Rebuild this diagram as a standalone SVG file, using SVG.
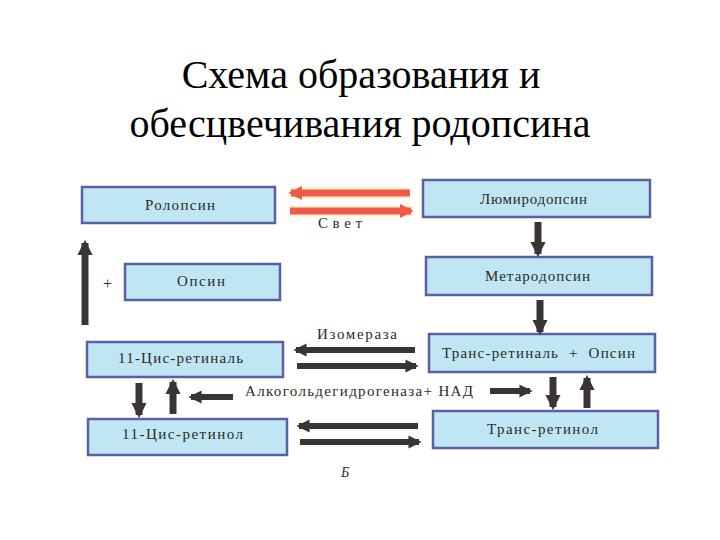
<svg xmlns="http://www.w3.org/2000/svg" width="720" height="540" viewBox="0 0 720 540">
<defs>
<style>
.title{font-family:"Liberation Serif","Times New Roman",serif;font-size:40px;fill:#000;text-anchor:middle}
.box rect{fill:#bfe6f2;stroke:#5b5fa6;stroke-width:2.5}
.box text{font-family:"Liberation Serif","Times New Roman",serif;font-size:15px;fill:#2a2a2a}
.lbl{font-family:"Liberation Serif","Times New Roman",serif;font-size:15px;fill:#2a2a2a}
.dk{stroke:#3a3434;stroke-width:6;fill:none;marker-end:url(#hd)}
.dkv{stroke:#3a3434;stroke-width:7;fill:none;marker-end:url(#hd)}
.rd{stroke:#f05a4a;stroke-width:7;fill:none;marker-end:url(#hr)}
.glow{stroke:#fbe9a0;stroke-width:11;fill:none;opacity:0.6}
</style>
<marker id="hd" viewBox="0 0 10 10" refX="8" refY="5" markerWidth="2.2" markerHeight="2.4" orient="auto" markerUnits="strokeWidth">
<path d="M0,0 L10,5 L0,10 z" fill="#3a3434"/>
</marker>
<marker id="hr" viewBox="0 0 10 10" refX="8" refY="5" markerWidth="2" markerHeight="2.3" orient="auto" markerUnits="strokeWidth">
<path d="M0,0 L10,5 L0,10 z" fill="#f05a4a"/>
</marker>
</defs>
<text class="title" x="361" y="88">Схема образования и</text>
<text class="title" x="360" y="137">обесцвечивания родопсина</text>

<g id="rodopsin" class="box"><rect x="82" y="187" width="193" height="36"/><text x="145" y="210" textLength="70" lengthAdjust="spacing">Ролопсин</text></g>
<g id="opsin" class="box"><rect x="125" y="264" width="155" height="36"/><text x="177" y="286" textLength="48" lengthAdjust="spacing">Опсин</text></g>
<g id="lumirodopsin" class="box"><rect x="423" y="180" width="227" height="37"/><text x="480" y="204" textLength="107" lengthAdjust="spacing">Люмиродопсин</text></g>
<g id="metarodopsin" class="box"><rect x="426" y="257" width="226" height="38"/><text x="485" y="281" textLength="105" lengthAdjust="spacing">Метародопсин</text></g>
<g id="trans-retinal" class="box"><rect x="429" y="334" width="226" height="38"/><text x="442" y="358" textLength="193" lengthAdjust="spacing" xml:space="preserve">Транс-ретиналь  +  Опсин</text></g>
<g id="trans-retinol" class="box"><rect x="433" y="411" width="225" height="37"/><text x="487" y="434" textLength="111" lengthAdjust="spacing">Транс-ретинол</text></g>
<g id="cis-retinal" class="box"><rect x="87" y="342" width="196" height="35"/><text x="118" y="363" textLength="125" lengthAdjust="spacing">11-Цис-ретиналь</text></g>
<g id="cis-retinol" class="box"><rect x="88" y="419" width="199" height="36"/><text x="122" y="439" textLength="121" lengthAdjust="spacing">11-Цис-ретинол</text></g>

<g id="labels">
<text class="lbl" x="318" y="228" textLength="44" lengthAdjust="spacing">Свет</text>
<text class="lbl" x="317" y="339" textLength="80" lengthAdjust="spacing">Изомераза</text>
<text class="lbl" x="245" y="396" textLength="228" lengthAdjust="spacing">Алкогольдегидрогеназа+ НАД</text>
<text x="103" y="289" font-family="Liberation Serif,serif" font-size="16" fill="#333">+</text>
<text x="341" y="477" font-family="Liberation Serif,serif" font-size="14" font-style="italic" fill="#333">Б</text>
</g>

<g id="connectors">
<line class="glow" x1="410" y1="193" x2="290" y2="193"/>
<line class="glow" x1="290" y1="211" x2="412" y2="211"/>
<line class="rd" x1="410" y1="193" x2="291" y2="193"/>
<line class="rd" x1="290" y1="211" x2="411" y2="211"/>
<line class="dkv" x1="538" y1="222" x2="538" y2="254"/>
<line class="dkv" x1="540" y1="300" x2="540" y2="332"/>
<line class="dkv" x1="85" y1="325" x2="85" y2="243"/>
<line class="dk" x1="415" y1="350" x2="296" y2="350"/>
<line class="dk" x1="297" y1="366" x2="416" y2="366"/>
<line class="dk" x1="233" y1="397" x2="191" y2="397"/>
<line class="dk" x1="490" y1="391" x2="530" y2="391"/>
<line class="dkv" x1="139" y1="383" x2="139" y2="415"/>
<line class="dkv" x1="173" y1="414" x2="173" y2="382"/>
<line class="dkv" x1="553" y1="377" x2="553" y2="407"/>
<line class="dkv" x1="587" y1="408" x2="587" y2="378"/>
<line class="dk" x1="418" y1="426" x2="299" y2="426"/>
<line class="dk" x1="300" y1="442" x2="419" y2="442"/>
</g>
</svg>
